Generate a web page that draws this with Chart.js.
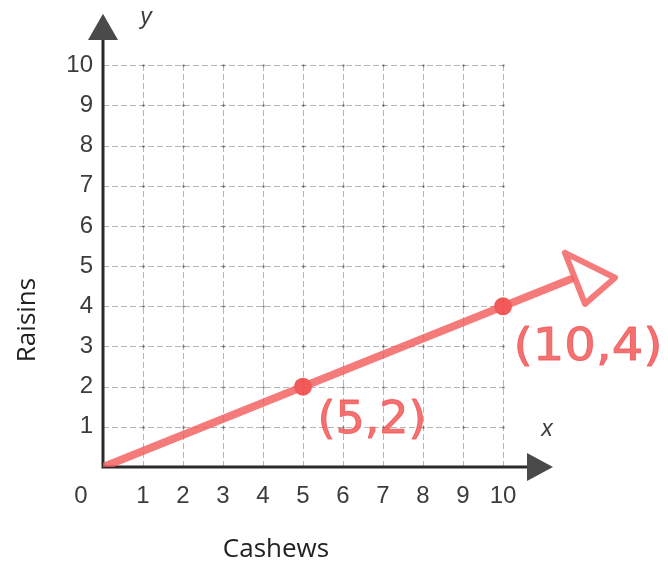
<!DOCTYPE html>
<html>
<head>
<meta charset="utf-8">
<script src="https://cdn.jsdelivr.net/npm/chart.js@4.4.1/dist/chart.umd.min.js"></script>
<style>
  html, body { margin: 0; padding: 0; background: #fff; }
  #wrap { width: 668px; height: 563px; position: relative; }
</style>
</head>
<body>
<div id="wrap"><canvas id="grafico"></canvas></div>
<script>
// =====================
// datos del gráfico
// =====================
const ticksX = [1, 2, 3, 4, 5, 6, 7, 8, 9, 10];
const ticksY = [1, 2, 3, 4, 5, 6, 7, 8, 9, 10];
const rectaX = [0, 11.68];
const rectaY = [0, 4.67];
const puntosX = [5, 10];
const puntosY = [2, 4];
const etiquetasPuntos = ["(5,2)", "(10,4)"];
const flechaX = [11.55, 12.8, 12.05, 11.55];
const flechaY = [5.33, 4.71, 4.06, 5.33];
const tituloX = "Cashews";
const tituloY = "Raisins";

const ROJO = "rgba(242, 90, 90, 0.8)";
const ROJO_PUNTO = "rgba(238, 60, 60, 0.85)";
const ROJO_TEXTO = "rgba(242, 88, 88, 0.85)";

const aPuntos = (xs, ys) => xs.map((v, i) => ({ x: v, y: ys[i] }));

// cuadrícula punteada + ejes con flechas
const cuadricula = {
  id: "cuadricula",
  beforeDatasetsDraw(chart) {
    const { ctx, scales: { x, y } } = chart;
    const xa = x.getPixelForValue(0), xb = x.getPixelForValue(Math.max(...ticksX));
    const ya = y.getPixelForValue(0), yb = y.getPixelForValue(Math.max(...ticksY));
    ctx.save();
    ctx.strokeStyle = "rgba(110,110,110,0.5)";
    ctx.lineWidth = 1;
    ctx.setLineDash([6, 3]);
    ticksX.forEach(v => {
      const px = Math.round(x.getPixelForValue(v)) + 0.5;
      ctx.beginPath(); ctx.moveTo(px, ya); ctx.lineTo(px, yb); ctx.stroke();
    });
    ticksY.forEach(v => {
      const py = Math.round(y.getPixelForValue(v)) + 0.5;
      ctx.beginPath(); ctx.moveTo(xa, py); ctx.lineTo(xb, py); ctx.stroke();
    });
    ctx.setLineDash([]);
    // puntitos en los cruces
    ctx.fillStyle = "rgba(70,70,70,0.7)";
    ticksX.forEach(vx => ticksY.forEach(vy => {
      ctx.fillRect(Math.round(x.getPixelForValue(vx)) - 0.5, Math.round(y.getPixelForValue(vy)) - 0.5, 2, 2);
    }));

    // ejes
    const finY = y.getPixelForValue(10.63), puntaY = y.getPixelForValue(11.28);
    const finX = x.getPixelForValue(10.6), puntaX = x.getPixelForValue(11.25);
    ctx.strokeStyle = "#2b2b2b";
    ctx.lineWidth = 3;
    ctx.beginPath();
    ctx.moveTo(xa, finY); ctx.lineTo(xa, ya); ctx.lineTo(finX, ya);
    ctx.stroke();
    ctx.fillStyle = "#4a4a4a";
    ctx.beginPath();
    ctx.moveTo(xa - 15, finY); ctx.lineTo(xa, puntaY); ctx.lineTo(xa + 15, finY); ctx.closePath();
    ctx.fill();
    ctx.beginPath();
    ctx.moveTo(finX, ya - 14); ctx.lineTo(puntaX, ya); ctx.lineTo(finX, ya + 14); ctx.closePath();
    ctx.fill();
    ctx.restore();
  },
  afterDatasetsDraw(chart) {
    const { ctx, scales: { x, y } } = chart;
    ctx.save();
    ctx.fillStyle = "#3c3c3c";
    ctx.textAlign = "center";
    ctx.textBaseline = "middle";
    ctx.font = "24px 'Liberation Sans'";
    ctx.fillText("0", 81, 496);
    ctx.font = "italic 23px 'Liberation Sans'";
    ctx.fillText("x", 547, 430);
    ctx.fillText("y", 146, 18);

    // títulos
    ctx.fillStyle = "#222";
    ctx.font = "26px 'Open Sans'";
    ctx.textBaseline = "alphabetic";
    ctx.fillText(tituloX, 276, 557);
    ctx.save();
    ctx.translate(35, 320);
    ctx.rotate(-Math.PI / 2);
    ctx.fillText(tituloY, 0, 0);
    ctx.restore();

    // etiquetas a mano
    const estilo = [
      { dx: 69, dy: 35, ancho: 109 },
      { dx: 85, dy: 42, ancho: 149 },
    ];
    ctx.font = "44px 'DejaVu Sans'";
    ctx.textBaseline = "middle";
    ctx.fillStyle = ROJO_TEXTO;
    ctx.strokeStyle = ROJO_TEXTO;
    ctx.lineWidth = 1;
    ctx.lineJoin = "round";
    etiquetasPuntos.forEach((t, i) => {
      const px = x.getPixelForValue(puntosX[i]) + estilo[i].dx;
      const py = y.getPixelForValue(puntosY[i]) + estilo[i].dy;
      const w = ctx.measureText(t).width;
      ctx.save();
      ctx.translate(px, py);
      ctx.scale(estilo[i].ancho / w, 1);
      ctx.fillText(t, 0, 0);
      ctx.strokeText(t, 0, 0);
      ctx.restore();
    });
    ctx.restore();
  }
};

const fuenteTicks = { family: "'Liberation Sans', Arial, sans-serif", size: 24 };

new Chart(document.getElementById("grafico"), {
  type: "scatter",
  data: {
    datasets: [
      {
        label: "recta",
        data: aPuntos(rectaX, rectaY),
        showLine: true,
        borderColor: ROJO,
        borderWidth: 8,
        borderCapStyle: "round",
        pointRadius: 0,
      },
      {
        label: "flecha",
        data: aPuntos(flechaX, flechaY),
        showLine: true,
        borderColor: ROJO,
        borderWidth: 6,
        borderJoinStyle: "round",
        borderCapStyle: "round",
        pointRadius: 0,
      },
      {
        label: "puntos",
        data: aPuntos(puntosX, puntosY),
        backgroundColor: ROJO_PUNTO,
        borderWidth: 0,
        pointRadius: 9,
      },
    ],
  },
  options: {
    responsive: true,
    maintainAspectRatio: false,
    animation: false,
    layout: { padding: { left: 0, right: 25, top: 7, bottom: 0 } },
    plugins: { legend: { display: false }, tooltip: { enabled: false } },
    scales: {
      x: {
        type: "linear",
        min: 0,
        max: 13.5,
        grid: { display: false, drawTicks: false },
        border: { display: false },
        ticks: {
          stepSize: 1,
          autoSkip: false,
          maxRotation: 0,
          padding: 15,
          color: "#3c3c3c",
          font: fuenteTicks,
          callback: v => (ticksX.includes(v) ? String(v) : null),
        },
        afterFit: s => { s.height = 96; s.paddingLeft = 0; s.paddingRight = 0; },
      },
      y: {
        type: "linear",
        min: 0,
        max: 11.4,
        grid: { display: false, drawTicks: false },
        border: { display: false },
        ticks: {
          stepSize: 1,
          autoSkip: false,
          padding: 10,
          color: "#3c3c3c",
          font: fuenteTicks,
          callback: v => (ticksY.includes(v) ? String(v) : null),
        },
        afterFit: s => { s.width = 103; s.paddingTop = 0; s.paddingBottom = 0; },
      },
    },
  },
  plugins: [cuadricula],
});
</script>
</body>
</html>
